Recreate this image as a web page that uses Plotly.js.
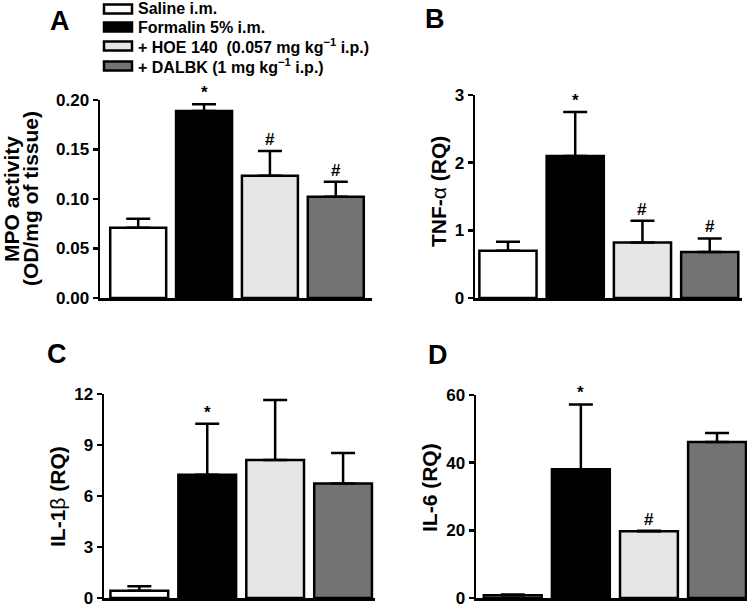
<!DOCTYPE html>
<html>
<head>
<meta charset="utf-8">
<script src="https://cdn.plot.ly/plotly-3.0.1.min.js"></script>
<style>html,body{margin:0;padding:0;background:#fff}#chart{width:753px;height:608px}</style>
</head>
<body>
<div id="chart"></div>
<script>
// ---- data ----
const groups = ["Saline i.m.", "Formalin 5% i.m.", "+ HOE 140\u00a0\u00a0(0.057 mg kg<sup>−1</sup> i.p.)", "+ DALBK (1 mg kg<sup>−1</sup> i.p.)"];
const groupColors = ["#ffffff", "#000000", "#e6e6e6", "#737373"];

const mpoMean = [0.071, 0.189, 0.1235, 0.1023];
const mpoSem  = [0.009, 0.0066, 0.025, 0.0152];
const mpoMarks = ["", "*", "#", "#"];

const tnfMean = [0.70, 2.10, 0.82, 0.68];
const tnfSem  = [0.13, 0.65, 0.32, 0.20];
const tnfMarks = ["", "*", "#", "#"];

const il1Mean = [0.43, 7.25, 8.12, 6.73];
const il1Sem  = [0.26, 3.00, 3.53, 1.80];
const il1Marks = ["", "*", "", ""];

const il6Mean = [0.8, 38.05, 19.7, 46.1];
const il6Sem  = [0.2, 19.15, 0.2, 2.7];
const il6Marks = ["", "*", "#", ""];

const mpoTicks = [0, 0.05, 0.10, 0.15, 0.20];
const tnfTicks = [0, 1, 2, 3];
const il1Ticks = [0, 3, 6, 9, 12];
const il6Ticks = [0, 20, 40, 60];

// ---- layout helpers ----
const W = 753, H = 608;
const px = x => x / W;
const py = y => 1 - y / H;
const FONT = "Liberation Sans, Arial, Helvetica, sans-serif";

const panels = [
  {mean: mpoMean, sem: mpoSem, marks: mpoMarks, ticks: mpoTicks, fmt: ".2f",
   xd: [100, 372], yd: [100, 298], xr: [-0.58, 3.55], yr: [0, 0.2],
   letter: "A", lx: 60, ly: 21,
   titles: [["MPO activity", 11, 199], ["(OD/mg of tissue)", 30, 199]]},
  {mean: tnfMean, sem: tnfSem, marks: tnfMarks, ticks: tnfTicks, fmt: "d",
   xd: [475, 742], yd: [95, 298], xr: [-0.49, 3.48], yr: [0, 3],
   letter: "B", lx: 435, ly: 19,
   titles: [["TNF-<span style=\"font-weight:normal\">α</span> (RQ)", 438, 192]]},
  {mean: il1Mean, sem: il1Sem, marks: il1Marks, ticks: il1Ticks, fmt: "d",
   xd: [104, 375], yd: [394, 598], xr: [-0.52, 3.47], yr: [0, 12],
   letter: "C", lx: 57, ly: 354,
   titles: [["IL-1<span style=\"font-weight:normal\">β</span> (RQ)", 57, 497]]},
  {mean: il6Mean, sem: il6Sem, marks: il6Marks, ticks: il6Ticks, fmt: "d",
   xd: [476, 747], yd: [395, 598], xr: [-0.54, 3.44], yr: [0, 60],
   letter: "D", lx: 438, ly: 355,
   titles: [["IL-6 (RQ)", 429, 488]]}
];

const data = [];
const annotations = [];
const shapes = [];
const layout = {
  width: W, height: H,
  margin: {l: 0, r: 0, t: 0, b: 0},
  paper_bgcolor: "#fff", plot_bgcolor: "rgba(0,0,0,0)",
  showlegend: false,
  font: {family: FONT, color: "#000"},
  annotations: annotations,
  shapes: shapes
};

panels.forEach((p, i) => {
  const n = i === 0 ? "" : String(i + 1);
  const xa = "x" + n, ya = "y" + n;
  data.push({
    type: "bar",
    x: [0, 1, 2, 3],
    y: p.mean,
    width: 0.85,
    xaxis: xa, yaxis: ya,
    marker: {color: groupColors, line: {color: "#000", width: 2.5}},
    error_y: {type: "data", symmetric: false, array: p.sem, arrayminus: [0, 0, 0, 0],
              color: "#000", thickness: 2.5, width: 12},
    hoverinfo: "skip"
  });
  layout["xaxis" + n] = {
    domain: [px(p.xd[0]), px(p.xd[1])],
    anchor: ya, range: p.xr,
    showline: true, linecolor: "#000", linewidth: 2.5,
    showgrid: false, zeroline: false, showticklabels: false, ticks: "",
    fixedrange: true
  };
  layout["yaxis" + n] = {
    domain: [py(p.yd[1]), py(p.yd[0])],
    anchor: xa, range: p.yr,
    showline: true, linecolor: "#000", linewidth: 2.5,
    showgrid: false, zeroline: false,
    ticks: "outside", ticklen: 5, tickwidth: 2.5, tickcolor: "#000",
    tickvals: p.ticks, tickformat: p.fmt,
    tickfont: {family: FONT, size: 17, weight: "bold", color: "#000"},
    fixedrange: true
  };
  // significance marks
  p.marks.forEach((m, j) => {
    if (!m) return;
    annotations.push({
      xref: xa, yref: ya, x: j, y: p.mean[j] + p.sem[j],
      text: m, showarrow: false, yanchor: "bottom", yshift: 0,
      font: {family: FONT, size: 17, weight: "bold", color: "#000"}
    });
  });
  // panel letter
  annotations.push({
    xref: "paper", yref: "paper", x: px(p.lx), y: py(p.ly),
    xanchor: "center", yanchor: "middle", showarrow: false,
    text: p.letter, font: {family: FONT, size: 27, weight: "bold", color: "#000"}
  });
  // axis title(s)
  p.titles.forEach(t => {
    annotations.push({
      xref: "paper", yref: "paper", x: px(t[1]), y: py(t[2]),
      xanchor: "center", yanchor: "middle", showarrow: false, textangle: -90,
      text: t[0], font: {family: FONT, size: 21, weight: "bold", color: "#000"}
    });
  });
});

// legend (swatches + labels)
const legendRows = [9, 27, 46, 66];
groups.forEach((g, k) => {
  const yc = legendRows[k];
  shapes.push({
    type: "rect", xref: "paper", yref: "paper",
    x0: px(104), x1: px(132), y0: py(yc + 4.5), y1: py(yc - 4.5),
    fillcolor: groupColors[k], line: {color: "#000", width: 2.5}
  });
  annotations.push({
    xref: "paper", yref: "paper", x: px(137), y: py(yc),
    xanchor: "left", yanchor: "middle", showarrow: false,
    borderpad: 0,
    text: g, font: {family: FONT, size: 16, weight: "bold", color: "#000"}
  });
});

Plotly.newPlot("chart", data, layout, {staticPlot: true, displayModeBar: false});
</script>
</body>
</html>
